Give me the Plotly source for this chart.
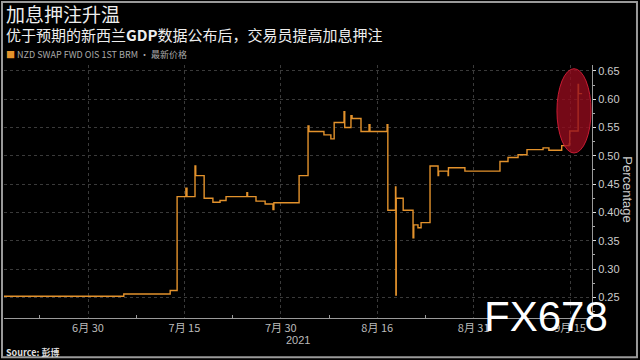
import plotly.graph_objects as go

# ---- data ----
times = [
    "2021-06-16 10:00", "2021-07-06 02:00", "2021-07-13 09:00", "2021-07-14 04:00",
    "2021-07-15 04:00", "2021-07-15 07:00", "2021-07-16 05:00", "2021-07-16 07:00",
    "2021-07-19 06:00", "2021-07-20 06:00", "2021-07-21 01:30", "2021-07-21 18:00",
    "2021-07-26 03:00", "2021-07-26 05:00", "2021-07-27 04:00", "2021-07-28 05:00",
    "2021-07-29 02:30", "2021-07-29 05:00", "2021-08-03 02:00", "2021-08-04 02:30",
    "2021-08-04 05:00", "2021-08-05 22:00", "2021-08-06 17:00", "2021-08-09 02:00",
    "2021-08-10 05:00", "2021-08-10 07:00", "2021-08-11 00:00", "2021-08-11 03:00",
    "2021-08-12 03:30", "2021-08-13 01:30", "2021-08-13 04:00", "2021-08-17 03:00",
    "2021-08-17 05:00", "2021-08-18 02:00", "2021-08-18 03:00", "2021-08-18 04:00",
    "2021-08-18 23:00", "2021-08-20 02:00", "2021-08-20 04:00", "2021-08-20 15:30",
    "2021-08-23 00:00", "2021-08-24 00:30", "2021-08-24 22:30", "2021-08-25 00:00",
    "2021-08-26 02:00", "2021-08-26 03:00", "2021-08-30 00:00", "2021-09-03 00:00",
    "2021-09-03 22:00", "2021-09-07 01:30", "2021-09-08 02:00", "2021-09-09 22:00",
    "2021-09-10 14:00", "2021-09-14 01:00", "2021-09-14 21:30", "2021-09-14 23:00",
    "2021-09-15 22:00", "2021-09-15 23:00", "2021-09-16 09:00",
]
rates = [
    0.252, 0.256, 0.262, 0.428,
    0.443, 0.428, 0.482, 0.465,
    0.425, 0.418, 0.421, 0.428,
    0.435, 0.428, 0.420, 0.415,
    0.405, 0.417, 0.465, 0.553,
    0.543, 0.537, 0.530, 0.559,
    0.578, 0.550, 0.571, 0.566,
    0.543, 0.555, 0.543, 0.555,
    0.404, 0.445, 0.254, 0.425,
    0.404, 0.355, 0.378, 0.373,
    0.382, 0.482, 0.465, 0.473,
    0.465, 0.479, 0.473, 0.490,
    0.497, 0.502, 0.511, 0.514,
    0.510, 0.518, 0.521, 0.544,
    0.626, 0.610, 0.610,
]
tick_dates = ["2021-06-30", "2021-07-15", "2021-07-30", "2021-08-16", "2021-08-31", "2021-09-15"]
tick_labels = ["6月 30", "7月 15", "7月 30", "8月 16", "8月 31", "9月 15"]
minor_dates = ["2021-06-22 12:00", "2021-07-07 12:00", "2021-07-22 12:00",
               "2021-08-06 12:00", "2021-08-23 12:00", "2021-09-07 12:00"]
x_range = ["2021-06-16 10:00", "2021-09-17 12:00"]
y_range = [0.2135, 0.6605]
highlight_x = ["2021-09-13 12:00", "2021-09-17 09:30"]
highlight_y = [0.505, 0.654]

title = "加息押注升温"
subtitle = "优于预期的新西兰<b>GDP</b>数据公布后，交易员提高加息押注"
series_name = "NZD SWAP FWD OIS 1ST BRM · 最新价格"
line_color = "#e3922c"
cjk = "Noto Sans CJK SC"

fig = go.Figure()
fig.add_trace(go.Scatter(
    x=times, y=rates, mode="lines", line=dict(color=line_color, width=1.4, shape="hv"),
    name=series_name, showlegend=False, hoverinfo="skip",
))

fig.update_layout(
    width=640, height=360,
    margin=dict(l=4, r=48, t=65, b=42),
    paper_bgcolor="black", plot_bgcolor="black",
    font=dict(family=cjk, color="#cccccc"),
    xaxis=dict(
        type="date", range=x_range,
        rangebreaks=[dict(bounds=["sat", "mon"])],
        tickvals=tick_dates, ticktext=tick_labels,
        tickfont=dict(size=11, color="#bbbbbb", family=cjk),
        ticks="", showgrid=True, gridcolor="#3a3a3a", griddash="dot", gridwidth=1,
        showline=True, linecolor="#9a9a9a", linewidth=1,
        minor=dict(tickvals=minor_dates, ticks="inside", ticklen=3, tickcolor="#9a9a9a", showgrid=False),
        zeroline=False,
    ),
    yaxis=dict(
        side="right", range=y_range, dtick=0.05, tick0=0.25, tickformat=".2f",
        tickfont=dict(size=11, color="#cccccc", family="Liberation Sans"),
        ticks="outside", ticklen=3, tickcolor="#dddddd",
        showgrid=True, gridcolor="#3a3a3a", griddash="dot", gridwidth=1,
        showline=True, linecolor="#9a9a9a", linewidth=1,
        minor=dict(dtick=0.025, ticks="outside", ticklen=2, tickcolor="#aaaaaa", showgrid=False),
        zeroline=False,
    ),
    shapes=[
        dict(type="circle", xref="x", yref="y",
             x0=highlight_x[0], x1=highlight_x[1], y0=highlight_y[0], y1=highlight_y[1],
             fillcolor="rgba(150,12,30,0.78)", line=dict(color="rgba(215,30,55,0.9)", width=1),
             layer="above"),
        dict(type="rect", xref="paper", yref="paper",
             x0=-0.0034, x1=1.0765, y0=-0.1555, y1=1.2493,
             line=dict(color="#9a9a9a", width=2), fillcolor="rgba(0,0,0,0)", layer="above"),
    ],
    annotations=[
        dict(text=title, xref="paper", yref="paper", x=0.0, y=1.2025, xanchor="left", yanchor="middle",
             showarrow=False, font=dict(size=19, color="#eeeeee", family=cjk)),
        dict(text=subtitle, xref="paper", yref="paper", x=0.0, y=1.1187, xanchor="left", yanchor="middle",
             showarrow=False, font=dict(size=15, color="#eeeeee", family=cjk)),
        dict(text=f"<span style='color:{line_color}'>■</span> {series_name}", xref="paper", yref="paper",
             x=0.0, y=1.0396, xanchor="left", yanchor="middle",
             showarrow=False, font=dict(size=9, color="#aaaaaa", family=cjk)),
        dict(text="2021", xref="paper", yref="paper", x=0.5, y=-0.088, xanchor="center", yanchor="middle",
             showarrow=False, font=dict(size=11, color="#bbbbbb", family="Liberation Sans")),
        dict(text="<b>Source: 彭博</b>", xref="paper", yref="paper", x=0.0, y=-0.1357, xanchor="left",
             yanchor="middle", showarrow=False, font=dict(size=9, color="#dddddd", family=cjk)),
        dict(text="Percentage", xref="paper", yref="paper", x=1.0612, y=0.505, xanchor="center",
             yanchor="middle", textangle=90, showarrow=False,
             font=dict(size=13, color="#cccccc", family="Liberation Sans")),
        dict(text="FX678", xref="paper", yref="paper", x=0.9218, y=0.0067, xanchor="center",
             yanchor="middle", showarrow=False,
             font=dict(size=42, color="#ffffff", family="Liberation Sans")),
    ],
)

fig.write_html("out.html", config={"displayModeBar": False},
               post_script="document.body.style.margin='0';document.body.style.overflow='hidden';")
